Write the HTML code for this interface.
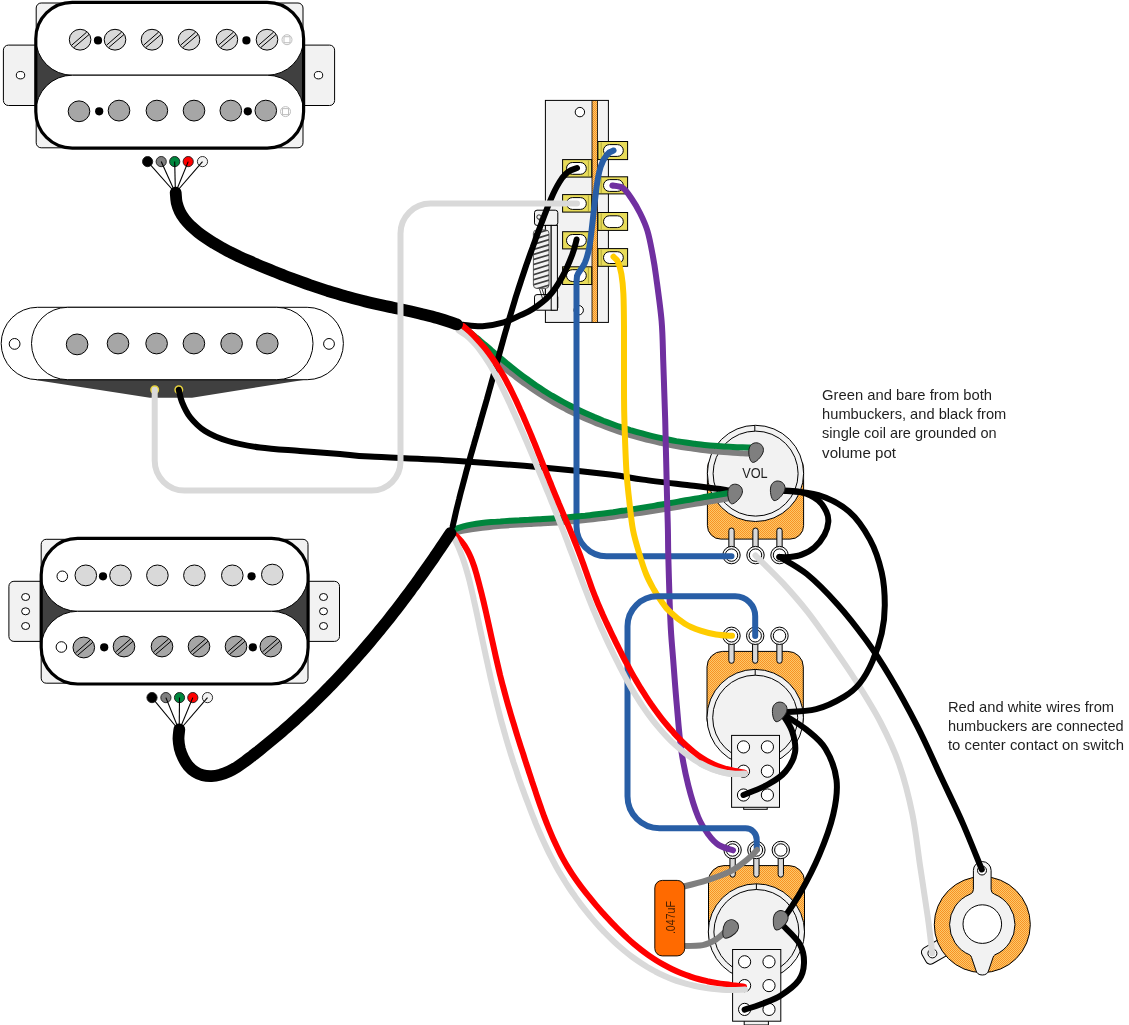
<!DOCTYPE html>
<html><head><meta charset="utf-8"><title>Wiring diagram</title>
<style>
html,body{margin:0;padding:0;background:#fff;}
body{width:1129px;height:1025px;overflow:hidden;font-family:"Liberation Sans",sans-serif;}
svg{display:block;will-change:transform;}
text{font-family:"Liberation Sans",sans-serif;}
</style></head><body>
<svg width="1129" height="1025" viewBox="0 0 1129 1025">
<defs>
<pattern id="dots" width="2" height="2" patternUnits="userSpaceOnUse">
<rect width="2" height="2" fill="#fcc868"/><rect x="0" y="0" width="1" height="1" fill="#f89226"/><rect x="1" y="1" width="1" height="1" fill="#f89226"/>
</pattern>
</defs>
<rect width="1129" height="1025" fill="#fff"/>
<g id="hb1">
<rect x="3.4" y="45.1" width="40.4" height="60.4" rx="5" fill="#f2f2f2" stroke="#000" stroke-width="1"/><rect x="295.6" y="45.1" width="39.0" height="60.4" rx="5" fill="#f2f2f2" stroke="#000" stroke-width="1"/><rect x="36.2" y="3" width="266.8" height="144.8" rx="5" fill="#f2f2f2" stroke="#000" stroke-width="1"/><rect x="35.8" y="2.3" width="267.8" height="145.79999999999998" rx="36.45" ry="36.45" fill="#404040"/><rect x="35.8" y="2.3" width="267.8" height="72.9" rx="36.45" ry="36.45" fill="#fff" stroke="#000" stroke-width="1"/><rect x="35.8" y="75.2" width="267.8" height="72.89999999999999" rx="36.449999999999996" ry="36.449999999999996" fill="#fff" stroke="#000" stroke-width="1"/><rect x="35.8" y="2.3" width="267.8" height="145.79999999999998" rx="36.45" ry="36.45" fill="none" stroke="#000" stroke-width="3.2"/>
<ellipse cx="20.5" cy="75.2" rx="4.2" ry="3.7" fill="#fff" stroke="#000"/>
<ellipse cx="318.5" cy="75.2" rx="4.2" ry="3.7" fill="#fff" stroke="#000"/>
<ellipse cx="80.1" cy="39.7" rx="10.8" ry="10.4" fill="#d9d9d9" stroke="#000" stroke-width="1"/><path d="M71.8 45.1L86.7 32.1M73.9 47.5L89.1 34.5" stroke="#000" stroke-width="1" fill="none"/>
<ellipse cx="115" cy="39.7" rx="10.8" ry="10.4" fill="#d9d9d9" stroke="#000" stroke-width="1"/><path d="M106.7 45.1L121.6 32.1M108.8 47.5L124.0 34.5" stroke="#000" stroke-width="1" fill="none"/>
<ellipse cx="152" cy="39.7" rx="10.8" ry="10.4" fill="#d9d9d9" stroke="#000" stroke-width="1"/><path d="M143.7 45.1L158.6 32.1M145.8 47.5L161.0 34.5" stroke="#000" stroke-width="1" fill="none"/>
<ellipse cx="189" cy="39.7" rx="10.8" ry="10.4" fill="#d9d9d9" stroke="#000" stroke-width="1"/><path d="M180.7 45.1L195.6 32.1M182.8 47.5L198.0 34.5" stroke="#000" stroke-width="1" fill="none"/>
<ellipse cx="226.9" cy="39.7" rx="10.8" ry="10.4" fill="#d9d9d9" stroke="#000" stroke-width="1"/><path d="M218.6 45.1L233.5 32.1M220.7 47.5L235.9 34.5" stroke="#000" stroke-width="1" fill="none"/>
<ellipse cx="267" cy="39.7" rx="10.8" ry="10.4" fill="#d9d9d9" stroke="#000" stroke-width="1"/><path d="M258.7 45.1L273.6 32.1M260.8 47.5L276.0 34.5" stroke="#000" stroke-width="1" fill="none"/>
<circle cx="98" cy="40.4" r="4.1" fill="#000"/>
<circle cx="246.4" cy="40.4" r="4.1" fill="#000"/>
<ellipse cx="79" cy="111.3" rx="10.8" ry="10.4" fill="#a6a6a6" stroke="#000" stroke-width="1"/>
<ellipse cx="119" cy="110.6" rx="10.8" ry="10.4" fill="#a6a6a6" stroke="#000" stroke-width="1"/>
<ellipse cx="156.9" cy="110.6" rx="10.8" ry="10.4" fill="#a6a6a6" stroke="#000" stroke-width="1"/>
<ellipse cx="194" cy="110.6" rx="10.8" ry="10.4" fill="#a6a6a6" stroke="#000" stroke-width="1"/>
<ellipse cx="230.8" cy="110.6" rx="10.8" ry="10.4" fill="#a6a6a6" stroke="#000" stroke-width="1"/>
<ellipse cx="265.8" cy="110.6" rx="10.8" ry="10.4" fill="#a6a6a6" stroke="#000" stroke-width="1"/>
<circle cx="99.2" cy="111.3" r="4.1" fill="#000"/>
<circle cx="247.8" cy="111.3" r="4.1" fill="#000"/>
<circle cx="287" cy="39.7" r="5" fill="#fff" stroke="#bfbfbf" stroke-width="1"/><rect x="284" y="36.7" width="6" height="6" fill="#fff" stroke="#bfbfbf" stroke-width="1"/>
<circle cx="285.5" cy="111.6" r="5" fill="#fff" stroke="#bfbfbf" stroke-width="1"/><rect x="282.5" y="108.6" width="6" height="6" fill="#fff" stroke="#bfbfbf" stroke-width="1"/>
</g>
<g id="hb2">
<rect x="8.9" y="581.3" width="40.300000000000004" height="60.10000000000002" rx="5" fill="#f2f2f2" stroke="#000" stroke-width="1"/><rect x="300.1" y="581.3" width="39.39999999999998" height="60.10000000000002" rx="5" fill="#f2f2f2" stroke="#000" stroke-width="1"/><rect x="41.2" y="539.3" width="266.8" height="143.9000000000001" rx="5" fill="#f2f2f2" stroke="#000" stroke-width="1"/><rect x="41.2" y="538.4" width="266.90000000000003" height="145.60000000000002" rx="36.44999999999999" ry="36.44999999999999" fill="#404040"/><rect x="41.2" y="538.4" width="266.90000000000003" height="72.89999999999998" rx="36.44999999999999" ry="36.44999999999999" fill="#fff" stroke="#000" stroke-width="1"/><rect x="41.2" y="611.3" width="266.90000000000003" height="72.70000000000005" rx="36.35000000000002" ry="36.35000000000002" fill="#fff" stroke="#000" stroke-width="1"/><rect x="41.2" y="538.4" width="266.90000000000003" height="145.60000000000002" rx="36.44999999999999" ry="36.44999999999999" fill="none" stroke="#000" stroke-width="3.2"/>
<ellipse cx="25.6" cy="597" rx="4" ry="3.5" fill="#fff" stroke="#000"/>
<ellipse cx="25.6" cy="611.3" rx="4" ry="3.5" fill="#fff" stroke="#000"/>
<ellipse cx="25.6" cy="626" rx="4" ry="3.5" fill="#fff" stroke="#000"/>
<ellipse cx="323.5" cy="597" rx="4" ry="3.5" fill="#fff" stroke="#000"/>
<ellipse cx="323.5" cy="611.3" rx="4" ry="3.5" fill="#fff" stroke="#000"/>
<ellipse cx="323.5" cy="626" rx="4" ry="3.5" fill="#fff" stroke="#000"/>
<circle cx="62.3" cy="576.3" r="5.3" fill="#fff" stroke="#000"/>
<circle cx="61.4" cy="647" r="5.3" fill="#fff" stroke="#000"/>
<ellipse cx="85.8" cy="575.4" rx="10.8" ry="10.4" fill="#d9d9d9" stroke="#000" stroke-width="1"/>
<ellipse cx="120.5" cy="575.4" rx="10.8" ry="10.4" fill="#d9d9d9" stroke="#000" stroke-width="1"/>
<ellipse cx="157.4" cy="575.4" rx="10.8" ry="10.4" fill="#d9d9d9" stroke="#000" stroke-width="1"/>
<ellipse cx="194.4" cy="575.4" rx="10.8" ry="10.4" fill="#d9d9d9" stroke="#000" stroke-width="1"/>
<ellipse cx="232.3" cy="575.4" rx="10.8" ry="10.4" fill="#d9d9d9" stroke="#000" stroke-width="1"/>
<ellipse cx="272.3" cy="574.6" rx="10.8" ry="10.4" fill="#d9d9d9" stroke="#000" stroke-width="1"/>
<circle cx="103" cy="576.3" r="4.1" fill="#000"/>
<circle cx="251.6" cy="576.3" r="4.1" fill="#000"/>
<ellipse cx="83.8" cy="647.5" rx="10.8" ry="10.4" fill="#a6a6a6" stroke="#000" stroke-width="1"/><path d="M75.5 652.9L90.4 639.9M77.6 655.3L92.8 642.3" stroke="#000" stroke-width="1" fill="none"/>
<ellipse cx="124" cy="646.5" rx="10.8" ry="10.4" fill="#a6a6a6" stroke="#000" stroke-width="1"/><path d="M115.7 651.9L130.6 638.9M117.8 654.3L133.0 641.3" stroke="#000" stroke-width="1" fill="none"/>
<ellipse cx="162" cy="646.5" rx="10.8" ry="10.4" fill="#a6a6a6" stroke="#000" stroke-width="1"/><path d="M153.7 651.9L168.6 638.9M155.8 654.3L171.0 641.3" stroke="#000" stroke-width="1" fill="none"/>
<ellipse cx="199" cy="646.5" rx="10.8" ry="10.4" fill="#a6a6a6" stroke="#000" stroke-width="1"/><path d="M190.7 651.9L205.6 638.9M192.8 654.3L208.0 641.3" stroke="#000" stroke-width="1" fill="none"/>
<ellipse cx="236" cy="646.5" rx="10.8" ry="10.4" fill="#a6a6a6" stroke="#000" stroke-width="1"/><path d="M227.7 651.9L242.6 638.9M229.8 654.3L245.0 641.3" stroke="#000" stroke-width="1" fill="none"/>
<ellipse cx="270.8" cy="646.5" rx="10.8" ry="10.4" fill="#a6a6a6" stroke="#000" stroke-width="1"/><path d="M262.5 651.9L277.4 638.9M264.6 654.3L279.8 641.3" stroke="#000" stroke-width="1" fill="none"/>
<circle cx="104.2" cy="647.3" r="4.1" fill="#000"/>
<circle cx="252.8" cy="647.3" r="4.1" fill="#000"/>
</g>
<g id="sc">
<path d="M33.7 379.7L305 379.7L192 397.7L149.8 397.7Z" fill="#404040"/>
<rect x="1.2" y="307.3" width="342.2" height="72.39999999999998" rx="36.19999999999999" ry="36.19999999999999" fill="#fff" stroke="#000" stroke-width="1"/>
<rect x="31.5" y="307.3" width="281.5" height="72.39999999999998" rx="36.19999999999999" ry="36.19999999999999" fill="#fff" stroke="#000" stroke-width="1"/>
<circle cx="14.6" cy="343.9" r="5.4" fill="#fff" stroke="#000"/>
<circle cx="329" cy="343.9" r="5.4" fill="#fff" stroke="#000"/>
<ellipse cx="77.1" cy="344.4" rx="10.8" ry="10.4" fill="#a6a6a6" stroke="#000" stroke-width="1"/>
<ellipse cx="118" cy="343.5" rx="10.8" ry="10.4" fill="#a6a6a6" stroke="#000" stroke-width="1"/>
<ellipse cx="156.6" cy="343.5" rx="10.8" ry="10.4" fill="#a6a6a6" stroke="#000" stroke-width="1"/>
<ellipse cx="193.9" cy="343.5" rx="10.8" ry="10.4" fill="#a6a6a6" stroke="#000" stroke-width="1"/>
<ellipse cx="231.6" cy="343.5" rx="10.8" ry="10.4" fill="#a6a6a6" stroke="#000" stroke-width="1"/>
<ellipse cx="267.3" cy="343.5" rx="10.8" ry="10.4" fill="#a6a6a6" stroke="#000" stroke-width="1"/>
<circle cx="154.7" cy="389.7" r="3.6" fill="#fff" stroke="#e6d23c" stroke-width="1.8"/>
<circle cx="178.8" cy="389.7" r="3.6" fill="#fff" stroke="#e6d23c" stroke-width="1.8"/>
</g>
<g id="sw">
<rect x="545.4" y="100.4" width="63" height="222" fill="#f2f2f2" stroke="#000" stroke-width="1"/>
<rect x="592" y="100.4" width="5.6" height="222" fill="url(#dots)" stroke="#000" stroke-width="0.8"/>
<circle cx="579.9" cy="112.1" r="4.7" fill="#fff" stroke="#000"/>
<circle cx="578.7" cy="310.2" r="4.7" fill="#fff" stroke="#000"/>
<rect x="534.5" y="210.2" width="23.3" height="15.2" rx="2.5" fill="#f2f2f2" stroke="#000"/>
<rect x="534.5" y="294.6" width="23.3" height="15.6" rx="2.5" fill="#f2f2f2" stroke="#000"/>
<rect x="545.4" y="225.4" width="5.8" height="69.2" fill="#f2f2f2" stroke="#000"/>
<rect x="551.2" y="225.4" width="6.2" height="84.8" fill="#f2f2f2" stroke="#000"/>
<circle cx="539" cy="217" r="2.2" fill="none" stroke="#000" stroke-width="0.8"/>
<path d="M539 219L542 230M539.5 289L544 303M542 289L546.5 302" stroke="#000" stroke-width="0.8" fill="none"/>
<clipPath id="spc"><rect x="533.4" y="229.9" width="15.6" height="58.5" rx="3.5"/></clipPath>
<rect x="533.4" y="229.9" width="15.6" height="58.5" rx="3.5" fill="#f2f2f2" stroke="#595959" stroke-width="1"/>
<path d="M532 234.7L550.5 229.1M532 239.8L550.5 234.2M532 244.8L550.5 239.2M532 249.9L550.5 244.3M532 254.9L550.5 249.3M532 260.0L550.5 254.4M532 265.0L550.5 259.4M532 270.1L550.5 264.5M532 275.1L550.5 269.5M532 280.2L550.5 274.6M532 285.2L550.5 279.6M532 290.3L550.5 284.7M532 295.3L550.5 289.7M532 300.4L550.5 294.8" stroke="#404040" stroke-width="1.7" fill="none" clip-path="url(#spc)"/>
<rect x="597.9" y="141.5" width="29.700000000000045" height="18.099999999999994" fill="#e8dc5a" stroke="#000" stroke-width="1"/><line x1="601.1999999999999" y1="142.5" x2="601.1999999999999" y2="158.6" stroke="#9a8f2a" stroke-width="0.7"/><rect x="603.5" y="144.6" width="19.8" height="11.8" rx="5.9" fill="#fff" stroke="#000" stroke-width="1"/>
<rect x="597.9" y="176.8" width="29.700000000000045" height="17.099999999999994" fill="#e8dc5a" stroke="#000" stroke-width="1"/><line x1="601.1999999999999" y1="177.8" x2="601.1999999999999" y2="192.9" stroke="#9a8f2a" stroke-width="0.7"/><rect x="603.5" y="179.6" width="19.8" height="11.8" rx="5.9" fill="#fff" stroke="#000" stroke-width="1"/>
<rect x="597.9" y="212.5" width="29.700000000000045" height="17.900000000000006" fill="#e8dc5a" stroke="#000" stroke-width="1"/><line x1="601.1999999999999" y1="213.5" x2="601.1999999999999" y2="229.4" stroke="#9a8f2a" stroke-width="0.7"/><rect x="603.5" y="215.79999999999998" width="19.8" height="11.8" rx="5.9" fill="#fff" stroke="#000" stroke-width="1"/>
<rect x="597.9" y="248.6" width="29.700000000000045" height="17.700000000000017" fill="#e8dc5a" stroke="#000" stroke-width="1"/><line x1="601.1999999999999" y1="249.6" x2="601.1999999999999" y2="265.3" stroke="#9a8f2a" stroke-width="0.7"/><rect x="603.5" y="251.70000000000002" width="19.8" height="11.8" rx="5.9" fill="#fff" stroke="#000" stroke-width="1"/>
<rect x="562.6" y="159.6" width="29.100000000000023" height="17.5" fill="#e8dc5a" stroke="#000" stroke-width="1"/><line x1="588.4000000000001" y1="160.6" x2="588.4000000000001" y2="176.1" stroke="#9a8f2a" stroke-width="0.7"/><rect x="566.5" y="162.5" width="19.8" height="11.8" rx="5.9" fill="#fff" stroke="#000" stroke-width="1"/>
<rect x="562.6" y="194.6" width="29.100000000000023" height="17.5" fill="#e8dc5a" stroke="#000" stroke-width="1"/><line x1="588.4000000000001" y1="195.6" x2="588.4000000000001" y2="211.1" stroke="#9a8f2a" stroke-width="0.7"/><rect x="566.5" y="197.6" width="19.8" height="11.8" rx="5.9" fill="#fff" stroke="#000" stroke-width="1"/>
<rect x="562.6" y="231.7" width="29.100000000000023" height="17.200000000000017" fill="#e8dc5a" stroke="#000" stroke-width="1"/><line x1="588.4000000000001" y1="232.7" x2="588.4000000000001" y2="247.9" stroke="#9a8f2a" stroke-width="0.7"/><rect x="566.5" y="234.5" width="19.8" height="11.8" rx="5.9" fill="#fff" stroke="#000" stroke-width="1"/>
<rect x="562.6" y="266.8" width="29.100000000000023" height="17.69999999999999" fill="#e8dc5a" stroke="#000" stroke-width="1"/><line x1="588.4000000000001" y1="267.8" x2="588.4000000000001" y2="283.5" stroke="#9a8f2a" stroke-width="0.7"/><rect x="566.5" y="269.70000000000005" width="19.8" height="11.8" rx="5.9" fill="#fff" stroke="#000" stroke-width="1"/>
</g>
<g id="vol">
<rect x="707.4" y="455" width="96.2" height="84.1" rx="13.5" fill="url(#dots)" stroke="#000" stroke-width="1"/>
<path d="M728.85 548.1L728.85 530.65A2.65 2.65 0 0 1 734.15 530.65L734.15 548.1" fill="#d9d9d9" stroke="#000" stroke-width="1"/><circle cx="731.5" cy="555.1" r="8.7" fill="#f2f2f2" stroke="#000" stroke-width="1"/><circle cx="731.5" cy="555.1" r="6.2" fill="#fff" stroke="#000" stroke-width="1"/><path d="M752.85 548.1L752.85 530.65A2.65 2.65 0 0 1 758.15 530.65L758.15 548.1" fill="#d9d9d9" stroke="#000" stroke-width="1"/><circle cx="755.5" cy="555.1" r="8.7" fill="#f2f2f2" stroke="#000" stroke-width="1"/><circle cx="755.5" cy="555.1" r="6.2" fill="#fff" stroke="#000" stroke-width="1"/><path d="M776.85 548.1L776.85 530.65A2.65 2.65 0 0 1 782.15 530.65L782.15 548.1" fill="#d9d9d9" stroke="#000" stroke-width="1"/><circle cx="779.5" cy="555.1" r="8.7" fill="#f2f2f2" stroke="#000" stroke-width="1"/><circle cx="779.5" cy="555.1" r="6.2" fill="#fff" stroke="#000" stroke-width="1"/>
<circle cx="755.5" cy="473.4" r="48.1" fill="#f2f2f2" stroke="#000"/>
<circle cx="755.6" cy="473.6" r="42.5" fill="#f2f2f2" stroke="#000"/>
<line x1="754.8" y1="425.3" x2="754.8" y2="431.1" stroke="#000"/>
</g>
<g id="tone1">
<rect x="707" y="651.4" width="96.3" height="84" rx="15.5" fill="url(#dots)" stroke="#000" stroke-width="1"/>
<path d="M728.85 642.8L728.85 660.65A2.65 2.65 0 0 0 734.15 660.65L734.15 642.8" fill="#d9d9d9" stroke="#000" stroke-width="1"/><circle cx="731.5" cy="635.8" r="8.7" fill="#f2f2f2" stroke="#000" stroke-width="1"/><circle cx="731.5" cy="635.8" r="6.2" fill="#fff" stroke="#000" stroke-width="1"/><path d="M752.5500000000001 642.8L752.5500000000001 660.65A2.65 2.65 0 0 0 757.85 660.65L757.85 642.8" fill="#d9d9d9" stroke="#000" stroke-width="1"/><circle cx="755.2" cy="635.8" r="8.7" fill="#f2f2f2" stroke="#000" stroke-width="1"/><circle cx="755.2" cy="635.8" r="6.2" fill="#fff" stroke="#000" stroke-width="1"/><path d="M776.85 642.8L776.85 660.65A2.65 2.65 0 0 0 782.15 660.65L782.15 642.8" fill="#d9d9d9" stroke="#000" stroke-width="1"/><circle cx="779.5" cy="635.8" r="8.7" fill="#f2f2f2" stroke="#000" stroke-width="1"/><circle cx="779.5" cy="635.8" r="6.2" fill="#fff" stroke="#000" stroke-width="1"/>
<circle cx="755.2" cy="717.6" r="48.2" fill="#f2f2f2" stroke="#000"/>
<circle cx="755.2" cy="717.7" r="42.5" fill="#f2f2f2" stroke="#000"/>
<line x1="755.2" y1="669.4" x2="755.2" y2="675.2" stroke="#000"/>
<rect x="743.7" y="804.6" width="23.5" height="4.7" fill="#f2f2f2" stroke="#000"/>
<rect x="731.6" y="735.4" width="47.9" height="71.9" fill="#f2f2f2" stroke="#000"/>
<circle cx="743.5" cy="746.9" r="6.1" fill="#fff" stroke="#000"/>
<circle cx="743.5" cy="771.2" r="6.1" fill="#fff" stroke="#000"/>
<circle cx="743.5" cy="795" r="6.1" fill="#fff" stroke="#000"/>
<circle cx="767.4" cy="746.9" r="6.1" fill="#fff" stroke="#000"/>
<circle cx="767.4" cy="771.2" r="6.1" fill="#fff" stroke="#000"/>
<circle cx="767.4" cy="795" r="6.1" fill="#fff" stroke="#000"/>
</g>
<g id="tone2">
<rect x="708.5" y="865.6" width="96" height="84" rx="15.5" fill="url(#dots)" stroke="#000" stroke-width="1"/>
<path d="M729.95 857L729.95 874.5500000000001A2.65 2.65 0 0 0 735.25 874.5500000000001L735.25 857" fill="#d9d9d9" stroke="#000" stroke-width="1"/><circle cx="732.6" cy="850" r="8.7" fill="#f2f2f2" stroke="#000" stroke-width="1"/><circle cx="732.6" cy="850" r="6.2" fill="#fff" stroke="#000" stroke-width="1"/><path d="M753.75 857L753.75 874.5500000000001A2.65 2.65 0 0 0 759.05 874.5500000000001L759.05 857" fill="#d9d9d9" stroke="#000" stroke-width="1"/><circle cx="756.4" cy="850" r="8.7" fill="#f2f2f2" stroke="#000" stroke-width="1"/><circle cx="756.4" cy="850" r="6.2" fill="#fff" stroke="#000" stroke-width="1"/><path d="M778.15 857L778.15 874.5500000000001A2.65 2.65 0 0 0 783.4499999999999 874.5500000000001L783.4499999999999 857" fill="#d9d9d9" stroke="#000" stroke-width="1"/><circle cx="780.8" cy="850" r="8.7" fill="#f2f2f2" stroke="#000" stroke-width="1"/><circle cx="780.8" cy="850" r="6.2" fill="#fff" stroke="#000" stroke-width="1"/>
<circle cx="756.4" cy="931.9" r="48.1" fill="#f2f2f2" stroke="#000"/>
<circle cx="756.4" cy="932" r="42.5" fill="#f2f2f2" stroke="#000"/>
<line x1="756.4" y1="883.8" x2="756.4" y2="889.5" stroke="#000"/>
<rect x="744.2" y="1019" width="24.2" height="6" fill="#f2f2f2" stroke="#000"/>
<rect x="732.6" y="949.5" width="48.2" height="71.7" fill="#f2f2f2" stroke="#000"/>
<circle cx="744.6" cy="961.8" r="6.1" fill="#fff" stroke="#000"/>
<circle cx="744.6" cy="985.6" r="6.1" fill="#fff" stroke="#000"/>
<circle cx="744.6" cy="1009.4" r="6.1" fill="#fff" stroke="#000"/>
<circle cx="769" cy="961.8" r="6.1" fill="#fff" stroke="#000"/>
<circle cx="769" cy="985.6" r="6.1" fill="#fff" stroke="#000"/>
<circle cx="769" cy="1009.4" r="6.1" fill="#fff" stroke="#000"/>
</g>
<g id="jack">
<rect x="-9.6" y="-9" width="34" height="18" rx="5" transform="translate(932.4 953.4) rotate(-29.8)" fill="#f2f2f2" stroke="#000"/>
<circle cx="932.4" cy="953.4" r="4.5" fill="#fff" stroke="#000"/>
<circle cx="982.3" cy="924.6" r="48" fill="url(#dots)" stroke="#000"/>
<path d="M973.4 870.4A8.85 8.85 0 0 1 991.1 870.4L991.1 889.5Q991.1 893 994.5 894.2A32.8 32.8 0 0 1 994.8 954.9Q993.4 955.8 993 957.6L988.8 970Q987.6 975 982.3 975Q977 975 975.8 970L971.6 957.6Q971.2 955.8 969.8 954.9A32.8 32.8 0 0 1 970.1 894.2Q973.4 893 973.4 889.5Z" fill="#f2f2f2" stroke="#000"/>
<circle cx="982.3" cy="924.1" r="19.3" fill="#fff" stroke="#000"/>
<circle cx="982" cy="870.5" r="4.5" fill="#fff" stroke="#000"/>
</g>
<g opacity="0.999">
<text x="822.1" y="399.9" font-size="14.4" fill="#1f1f1f" textLength="170" lengthAdjust="spacingAndGlyphs">Green and bare from both</text>
<text x="822.1" y="419.1" font-size="14.4" fill="#1f1f1f" textLength="184.2" lengthAdjust="spacingAndGlyphs">humbuckers, and black from</text>
<text x="822.1" y="438.4" font-size="14.4" fill="#1f1f1f" textLength="174.5" lengthAdjust="spacingAndGlyphs">single coil are grounded on</text>
<text x="822.1" y="457.6" font-size="14.4" fill="#1f1f1f" textLength="73.9" lengthAdjust="spacingAndGlyphs">volume pot</text>
<text x="947.9" y="712.1" font-size="14.4" fill="#1f1f1f" textLength="166.2" lengthAdjust="spacingAndGlyphs">Red and white wires from</text>
<text x="947.9" y="731.2" font-size="14.4" fill="#1f1f1f" textLength="175.7" lengthAdjust="spacingAndGlyphs">humbuckers are connected</text>
<text x="947.9" y="750.3" font-size="14.4" fill="#1f1f1f" textLength="176.2" lengthAdjust="spacingAndGlyphs">to center contact on switch</text>
<text x="742.2" y="478.4" font-size="13.9" fill="#1f1f1f" textLength="25.5" lengthAdjust="spacingAndGlyphs">VOL</text>
</g>
<g id="wires">
<path d="M461.0 327.0C462.3 327.9 466.3 330.4 468.8 332.3C471.3 334.1 473.6 336.2 475.9 338.4C478.1 340.5 480.2 342.8 482.3 345.1C484.4 347.4 486.4 349.8 488.4 352.2C490.4 354.5 492.4 356.9 494.6 359.2C496.7 361.4 499.0 363.5 501.3 365.6C503.7 367.6 506.2 369.5 508.6 371.4C511.1 373.4 513.6 375.2 516.0 377.1C518.5 379.0 521.0 380.9 523.5 382.7C526.0 384.5 528.6 386.3 531.1 388.1C533.7 389.9 536.2 391.6 538.8 393.3C541.4 395.0 544.1 396.7 546.7 398.3C549.4 399.9 552.1 401.5 554.8 403.1C557.5 404.6 560.2 406.1 563.0 407.6C565.8 409.0 568.5 410.5 571.3 411.9C574.1 413.3 576.9 414.6 579.8 415.9C582.6 417.2 585.4 418.5 588.3 419.8C591.2 421.0 594.0 422.2 596.9 423.4C599.8 424.5 602.7 425.6 605.6 426.7C608.5 427.8 611.5 428.9 614.4 429.9C617.3 430.9 620.3 431.9 623.3 432.8C626.2 433.8 629.2 434.7 632.2 435.6C635.2 436.4 638.2 437.3 641.2 438.1C644.2 438.9 647.2 439.7 650.2 440.4C653.2 441.2 656.3 441.9 659.3 442.5C662.4 443.2 665.4 443.9 668.5 444.5C671.5 445.1 674.6 445.7 677.6 446.2C680.7 446.8 683.8 447.3 686.9 447.8C689.9 448.2 693.0 448.7 696.1 449.1C699.2 449.5 702.3 449.9 705.4 450.3C708.5 450.7 711.6 451.0 714.7 451.3C717.8 451.6 720.9 451.9 724.0 452.1C727.1 452.4 730.2 452.6 733.3 452.8C736.4 453.0 739.6 453.1 742.7 453.3C745.8 453.4 750.4 453.5 752.0 453.6" fill="none" stroke="#7f7f7f" stroke-width="6" stroke-linecap="round" stroke-linejoin="round"/>
<path d="M462.0 326.0C463.2 327.0 467.0 329.9 469.4 331.9C471.9 333.8 474.3 335.9 476.8 337.9C479.2 339.9 481.6 342.0 484.0 344.0C486.5 346.1 488.9 348.1 491.3 350.2C493.7 352.2 496.1 354.3 498.5 356.4C500.9 358.4 503.3 360.5 505.8 362.5C508.2 364.5 510.7 366.5 513.2 368.5C515.6 370.5 518.1 372.4 520.6 374.3C523.2 376.3 525.7 378.1 528.3 380.0C530.8 381.9 533.4 383.7 536.0 385.5C538.6 387.2 541.3 389.0 543.9 390.7C546.6 392.4 549.3 394.0 552.0 395.7C554.7 397.3 557.5 398.9 560.3 400.4C563.0 401.9 565.8 403.4 568.6 404.9C571.4 406.4 574.3 407.8 577.1 409.2C580.0 410.6 582.8 411.9 585.7 413.2C588.6 414.5 591.5 415.8 594.4 417.1C597.3 418.3 600.3 419.5 603.2 420.7C606.2 421.8 609.1 422.9 612.1 424.0C615.1 425.1 618.1 426.2 621.1 427.2C624.1 428.2 627.1 429.1 630.1 430.1C633.2 431.0 636.2 431.9 639.2 432.7C642.3 433.6 645.4 434.4 648.4 435.2C651.5 436.0 654.6 436.7 657.7 437.4C660.8 438.1 663.9 438.7 667.0 439.3C670.1 439.9 673.2 440.5 676.3 441.1C679.4 441.6 682.6 442.1 685.7 442.5C688.8 443.0 692.0 443.4 695.1 443.8C698.3 444.2 701.4 444.6 704.6 444.9C707.7 445.2 710.9 445.5 714.0 445.7C717.2 446.0 720.3 446.2 723.5 446.4C726.7 446.6 729.8 446.8 733.0 446.9C736.2 447.1 739.3 447.2 742.5 447.3C745.7 447.4 750.4 447.5 752.0 447.5" fill="none" stroke="#00863d" stroke-width="6" stroke-linecap="round" stroke-linejoin="round"/>
<path d="M454.4 532.5C455.9 532.2 460.5 531.2 463.6 530.6C466.7 530.0 469.8 529.5 472.9 529.1C476.0 528.6 479.1 528.2 482.2 527.8C485.3 527.4 488.4 527.0 491.5 526.7C494.6 526.4 497.7 526.1 500.8 525.8C504.0 525.6 507.1 525.4 510.2 525.1C513.3 524.9 516.5 524.7 519.6 524.5C522.7 524.3 525.9 524.2 529.0 524.0C532.1 523.8 535.2 523.7 538.4 523.5C541.5 523.3 544.6 523.2 547.8 523.0C550.9 522.8 554.0 522.6 557.2 522.4C560.3 522.2 563.4 522.0 566.6 521.7C569.7 521.5 572.8 521.2 575.9 521.0C579.0 520.7 582.2 520.4 585.3 520.1C588.4 519.7 591.5 519.4 594.6 519.0C597.7 518.7 600.8 518.3 604.0 517.9C607.1 517.5 610.2 517.1 613.3 516.7C616.4 516.3 619.5 515.9 622.6 515.4C625.7 515.0 628.8 514.5 631.9 514.1C635.0 513.6 638.1 513.2 641.2 512.7C644.3 512.2 647.4 511.7 650.5 511.2C653.6 510.7 656.7 510.2 659.8 509.7C662.9 509.2 666.0 508.7 669.0 508.2C672.1 507.7 675.2 507.2 678.3 506.7C681.4 506.1 684.5 505.6 687.6 505.1C690.7 504.6 693.8 504.1 696.9 503.6C700.0 503.0 703.1 502.5 706.2 502.0C709.2 501.5 712.3 501.0 715.4 500.5C718.5 500.0 721.6 499.5 724.7 499.0C727.8 498.5 732.5 497.8 734.0 497.6" fill="none" stroke="#7f7f7f" stroke-width="6" stroke-linecap="round" stroke-linejoin="round"/>
<path d="M178.8 389.7C179.3 391.8 180.1 397.4 182.0 402.0C183.9 406.6 186.2 412.2 190.0 417.0C193.8 421.8 198.7 427.0 205.0 431.0C211.3 435.0 218.8 438.2 228.0 441.0C237.2 443.8 248.0 445.8 260.0 447.5C272.0 449.2 286.7 449.9 300.0 451.0C313.3 452.1 328.3 453.1 340.0 454.0C351.7 454.9 350.8 455.5 370.0 456.6C389.2 457.7 426.7 459.0 455.0 460.8C483.3 462.6 514.2 464.9 540.0 467.2C565.8 469.5 592.9 472.5 610.0 474.6C627.1 476.7 629.0 477.7 642.9 479.6C656.8 481.5 680.8 484.2 693.6 485.8C706.5 487.4 713.1 488.0 720.0 489.0C726.9 490.0 732.5 491.5 735.0 492.0" fill="none" stroke="#000" stroke-width="6" stroke-linecap="round" stroke-linejoin="round"/>
<path d="M613.6 150.5C608 152 603.5 158 600.6 166.9C598 175 596.9 183 595.6 195C594.3 207 592.5 222 591.1 234.5C590 245 588.5 254.3 584.8 263C582 269 578.5 271.5 577 276L576.5 282L576.5 526A30 30 0 0 0 606.5 556.2L731.5 556.2" fill="none" stroke="#285ea6" stroke-width="6" stroke-linecap="round" stroke-linejoin="round"/>
<path d="M454.4 529.3C455.9 528.8 460.3 527.2 463.4 526.4C466.4 525.6 469.4 525.0 472.5 524.4C475.6 523.9 478.7 523.5 481.8 523.1C484.9 522.7 488.0 522.4 491.2 522.1C494.3 521.8 497.4 521.6 500.5 521.4C503.7 521.1 506.8 520.9 509.9 520.7C513.1 520.5 516.2 520.3 519.3 520.2C522.5 520.0 525.6 519.8 528.8 519.7C531.9 519.5 535.0 519.4 538.2 519.2C541.3 519.0 544.5 518.9 547.6 518.7C550.7 518.5 553.9 518.3 557.0 518.1C560.1 517.9 563.3 517.7 566.4 517.4C569.5 517.2 572.7 516.9 575.8 516.6C578.9 516.3 582.0 516.0 585.2 515.7C588.3 515.3 591.4 515.0 594.5 514.6C597.6 514.2 600.7 513.8 603.8 513.4C607.0 513.0 610.1 512.6 613.2 512.2C616.3 511.7 619.4 511.3 622.5 510.8C625.6 510.3 628.7 509.9 631.8 509.4C634.9 508.9 638.0 508.4 641.1 507.9C644.2 507.4 647.3 506.9 650.4 506.4C653.5 505.9 656.6 505.3 659.7 504.8C662.8 504.3 665.9 503.8 669.0 503.2C672.1 502.7 675.2 502.2 678.3 501.6C681.4 501.1 684.5 500.5 687.6 500.0C690.7 499.5 693.7 498.9 696.8 498.4C699.9 497.9 703.0 497.3 706.1 496.8C709.2 496.3 712.3 495.8 715.4 495.3C718.5 494.8 721.6 494.3 724.7 493.8C727.8 493.3 732.5 492.5 734.0 492.3" fill="none" stroke="#00863d" stroke-width="6" stroke-linecap="round" stroke-linejoin="round"/>
<path d="M612.4 185.5C614.1 185.9 619.7 185.8 622.9 188.0C626.1 190.2 628.6 194.3 631.5 198.5C634.4 202.7 637.3 207.6 640.0 213.0C642.7 218.4 645.5 224.3 647.5 231.0C649.5 237.7 650.9 245.5 652.3 253.0C653.7 260.5 654.5 264.5 656.0 275.8C657.5 287.1 660.4 307.0 661.6 321.0C662.8 335.0 662.8 348.5 663.2 360.0C663.6 371.5 663.9 380.0 664.2 390.0C664.5 400.0 664.7 402.3 665.2 420.0C665.7 437.7 666.5 477.7 667.0 496.0C667.5 514.3 667.7 520.0 667.9 530.0C668.1 540.0 668.0 544.8 668.3 556.0C668.6 567.2 669.1 585.2 669.5 597.5C669.9 609.8 670.3 619.6 670.9 630.0C671.5 640.4 672.2 647.3 673.2 660.0C674.2 672.7 675.5 691.3 676.9 706.3C678.2 721.3 679.4 737.0 681.3 750.2C683.2 763.4 685.5 774.3 688.3 785.4C691.1 796.5 694.9 808.8 698.2 817.0C701.6 825.2 705.0 829.8 708.4 834.5C711.8 839.2 714.8 842.5 718.9 845.1C723.0 847.7 730.6 849.4 733.0 850.3" fill="none" stroke="#7030a0" stroke-width="6" stroke-linecap="round" stroke-linejoin="round"/>
<path d="M613.5 256.8C614.2 257.6 616.5 258.6 617.8 261.5C619.1 264.4 620.5 268.6 621.4 274.0C622.3 279.4 623.0 285.0 623.4 293.8C623.8 302.6 623.9 310.7 624.0 326.7C624.1 342.7 623.9 374.4 624.0 390.0C624.1 405.6 624.0 406.6 624.4 420.0C624.8 433.4 625.6 457.4 626.4 470.7C627.2 484.0 628.1 490.1 629.2 500.0C630.3 509.9 631.2 520.7 633.0 530.0C634.8 539.3 637.8 548.5 640.0 556.0C642.2 563.5 644.2 569.5 646.5 575.0C648.8 580.5 651.4 585.1 653.7 589.3C656.0 593.5 657.9 596.4 660.5 600.0C663.1 603.6 665.2 607.2 669.3 611.2C673.4 615.2 679.7 620.5 684.9 623.7C690.1 627.0 695.3 628.9 700.5 630.7C705.7 632.5 710.8 633.6 716.0 634.5C721.2 635.4 729.3 635.6 732.0 635.8" fill="none" stroke="#ffcc00" stroke-width="6" stroke-linecap="round" stroke-linejoin="round"/>
<path d="M755.2 636L755.2 616.3A20 20 0 0 0 735.2 596.3L657.5 596.3A30 30 0 0 0 627.5 626.3L627.5 796.3A32 32 0 0 0 659.5 828.3L745.5 828.3A11.2 11.2 0 0 1 756.7 839.5L756.7 849" fill="none" stroke="#285ea6" stroke-width="6" stroke-linecap="round" stroke-linejoin="round"/>
<path d="M455.4 535.2C456.5 536.3 459.9 539.5 461.8 541.9C463.8 544.3 465.4 546.8 466.9 549.4C468.4 552.0 469.7 554.8 470.9 557.6C472.1 560.4 473.1 563.3 474.1 566.3C475.1 569.2 475.9 572.2 476.8 575.2C477.6 578.2 478.4 581.2 479.2 584.2C480.0 587.2 480.7 590.2 481.5 593.2C482.2 596.3 483.0 599.3 483.7 602.3C484.4 605.3 485.1 608.3 485.8 611.4C486.5 614.4 487.1 617.4 487.8 620.4C488.5 623.5 489.1 626.5 489.8 629.5C490.5 632.5 491.1 635.6 491.8 638.6C492.5 641.6 493.1 644.6 493.8 647.6C494.5 650.7 495.1 653.7 495.8 656.7C496.5 659.7 497.2 662.7 497.9 665.7C498.6 668.7 499.3 671.7 500.0 674.7C500.8 677.7 501.5 680.7 502.3 683.7C503.1 686.7 503.9 689.6 504.7 692.6C505.5 695.6 506.3 698.6 507.1 701.5C507.9 704.5 508.8 707.5 509.7 710.4C510.5 713.4 511.4 716.3 512.3 719.3C513.2 722.2 514.1 725.2 515.0 728.1C515.9 731.1 516.8 734.0 517.7 737.0C518.6 739.9 519.6 742.9 520.5 745.8C521.5 748.8 522.4 751.7 523.4 754.6C524.3 757.6 525.3 760.5 526.2 763.5C527.2 766.4 528.2 769.4 529.1 772.3C530.1 775.3 531.1 778.2 532.0 781.2C533.0 784.1 534.0 787.1 535.0 790.0C535.9 793.0 536.9 795.9 537.9 798.8C538.9 801.8 539.9 804.7 541.0 807.6C542.0 810.6 543.1 813.5 544.1 816.4C545.2 819.3 546.3 822.2 547.5 825.1C548.6 827.9 549.8 830.8 551.0 833.6C552.2 836.5 553.4 839.3 554.7 842.1C556.0 844.9 557.3 847.7 558.7 850.4C560.0 853.2 561.4 855.9 562.9 858.6C564.4 861.3 565.9 864.0 567.5 866.6C569.1 869.2 570.7 871.8 572.4 874.4C574.1 876.9 575.9 879.5 577.7 882.0C579.5 884.5 581.3 887.0 583.2 889.4C585.1 891.9 587.0 894.3 589.0 896.7C590.9 899.1 592.9 901.5 594.9 903.9C596.9 906.2 598.9 908.6 601.0 910.9C603.1 913.2 605.1 915.6 607.2 917.8C609.3 920.1 611.4 922.4 613.6 924.6C615.7 926.9 617.9 929.1 620.1 931.2C622.3 933.4 624.5 935.6 626.8 937.6C629.1 939.7 631.4 941.8 633.7 943.8C636.1 945.8 638.5 947.7 640.9 949.6C643.3 951.5 645.8 953.3 648.3 955.1C650.9 956.9 653.4 958.6 656.0 960.2C658.7 961.9 661.3 963.4 664.0 964.9C666.7 966.4 669.5 967.9 672.3 969.2C675.1 970.5 677.9 971.8 680.8 973.0C683.6 974.1 686.5 975.2 689.4 976.2C692.4 977.2 695.3 978.2 698.3 979.0C701.3 979.8 704.3 980.5 707.3 981.2C710.3 981.8 713.4 982.4 716.4 982.9C719.5 983.5 722.5 983.9 725.6 984.3C728.7 984.8 731.7 985.1 734.8 985.5C737.9 985.9 742.5 986.4 744.0 986.6" fill="none" stroke="#ff0000" stroke-width="6" stroke-linecap="round" stroke-linejoin="round"/>
<path d="M454.4 538.6C455.1 540.0 457.1 544.2 458.4 547.0C459.6 549.8 460.7 552.7 461.8 555.6C462.9 558.5 463.9 561.4 464.8 564.3C465.7 567.2 466.6 570.2 467.4 573.1C468.3 576.1 469.0 579.1 469.8 582.1C470.5 585.1 471.2 588.1 471.9 591.1C472.6 594.1 473.3 597.1 473.9 600.1C474.6 603.2 475.2 606.2 475.9 609.2C476.5 612.2 477.2 615.2 477.8 618.2C478.5 621.3 479.1 624.3 479.7 627.3C480.4 630.3 481.0 633.4 481.7 636.4C482.3 639.4 482.9 642.4 483.6 645.4C484.2 648.5 484.9 651.5 485.5 654.5C486.2 657.5 486.8 660.5 487.5 663.5C488.1 666.6 488.8 669.6 489.5 672.6C490.1 675.6 490.8 678.6 491.5 681.6C492.2 684.6 492.9 687.6 493.6 690.6C494.3 693.6 495.0 696.6 495.8 699.6C496.5 702.6 497.2 705.6 498.0 708.6C498.8 711.6 499.5 714.6 500.3 717.6C501.1 720.6 501.9 723.6 502.8 726.5C503.6 729.5 504.4 732.5 505.3 735.4C506.1 738.4 507.0 741.4 507.9 744.3C508.8 747.3 509.7 750.3 510.6 753.2C511.6 756.2 512.5 759.1 513.4 762.1C514.4 765.0 515.4 767.9 516.4 770.9C517.3 773.8 518.3 776.7 519.3 779.7C520.4 782.6 521.4 785.5 522.4 788.4C523.5 791.3 524.5 794.2 525.6 797.1C526.7 800.0 527.8 802.9 528.9 805.8C530.0 808.7 531.1 811.6 532.2 814.5C533.3 817.3 534.5 820.2 535.6 823.1C536.8 825.9 538.0 828.8 539.2 831.6C540.4 834.4 541.6 837.3 542.9 840.1C544.2 842.9 545.5 845.7 546.8 848.4C548.1 851.2 549.5 854.0 550.9 856.7C552.3 859.4 553.7 862.1 555.2 864.8C556.6 867.5 558.2 870.2 559.7 872.8C561.3 875.5 562.9 878.1 564.5 880.7C566.1 883.3 567.8 885.9 569.5 888.5C571.2 891.0 573.0 893.6 574.8 896.1C576.5 898.6 578.4 901.1 580.2 903.6C582.1 906.1 584.0 908.5 585.9 910.9C587.9 913.4 589.8 915.8 591.8 918.1C593.8 920.5 595.9 922.9 598.0 925.2C600.0 927.5 602.2 929.8 604.3 932.0C606.5 934.3 608.7 936.5 610.9 938.6C613.1 940.8 615.4 942.9 617.7 945.0C620.0 947.0 622.3 949.0 624.7 951.0C627.1 953.0 629.5 954.9 632.0 956.7C634.5 958.5 637.0 960.3 639.5 962.0C642.1 963.7 644.7 965.4 647.3 967.0C649.9 968.5 652.6 970.0 655.3 971.5C658.0 972.9 660.7 974.2 663.5 975.5C666.3 976.8 669.2 978.0 672.0 979.1C674.9 980.2 677.8 981.2 680.8 982.1C683.7 983.0 686.7 983.9 689.7 984.6C692.7 985.4 695.7 986.1 698.8 986.7C701.8 987.3 704.9 987.8 708.0 988.2C711.0 988.7 714.1 989.0 717.2 989.3C720.3 989.6 723.4 989.8 726.5 989.9C729.6 990.0 732.7 990.0 735.8 990.0C738.9 989.9 743.5 989.7 745.0 989.6" fill="none" stroke="#d9d9d9" stroke-width="6" stroke-linecap="round" stroke-linejoin="round"/>
<path d="M576.6 239.5C575.9 242.0 574.7 248.2 572.4 254.3C570.1 260.4 566.5 269.3 562.6 276.2C558.8 283.1 554.2 290.4 549.3 295.8C544.4 301.2 538.1 305.5 533.2 308.8C528.3 312.1 524.9 313.1 520.0 315.4C515.1 317.7 510.1 320.6 503.8 322.4C497.6 324.2 489.3 325.8 482.5 326.2C475.7 326.6 466.2 325.0 463.0 324.8" fill="none" stroke="#000" stroke-width="6" stroke-linecap="round" stroke-linejoin="round"/>
<path d="M577.0 168.0C575.6 168.6 570.8 170.0 568.3 171.7C565.8 173.4 563.9 175.8 562.0 178.2C560.2 180.6 558.6 183.4 557.1 186.1C555.6 188.8 554.2 191.6 552.9 194.4C551.6 197.3 550.4 200.2 549.2 203.1C548.0 206.0 546.9 209.0 545.8 211.9C544.6 214.8 543.5 217.8 542.4 220.7C541.3 223.7 540.2 226.6 539.1 229.5C538.0 232.5 536.9 235.4 535.9 238.3C534.8 241.3 533.7 244.2 532.7 247.2C531.6 250.1 530.6 253.0 529.5 256.0C528.5 258.9 527.5 261.9 526.4 264.8C525.4 267.8 524.4 270.7 523.4 273.7C522.4 276.6 521.4 279.6 520.5 282.5C519.5 285.5 518.5 288.5 517.6 291.4C516.6 294.4 515.7 297.4 514.8 300.3C513.9 303.3 513.0 306.3 512.1 309.3C511.2 312.3 510.3 315.3 509.4 318.3C508.5 321.3 507.7 324.3 506.8 327.3C505.9 330.3 505.1 333.3 504.2 336.3C503.4 339.3 502.6 342.3 501.7 345.3C500.9 348.3 500.1 351.3 499.2 354.4C498.4 357.4 497.6 360.4 496.8 363.4C495.9 366.4 495.1 369.4 494.3 372.5C493.5 375.5 492.6 378.5 491.8 381.5C491.0 384.5 490.2 387.5 489.3 390.5C488.5 393.5 487.6 396.6 486.8 399.6C485.9 402.6 485.1 405.6 484.2 408.6C483.4 411.6 482.5 414.6 481.6 417.6C480.8 420.6 479.9 423.6 479.1 426.6C478.2 429.6 477.3 432.6 476.5 435.6C475.6 438.6 474.7 441.6 473.9 444.6C473.0 447.6 472.2 450.6 471.3 453.6C470.5 456.6 469.6 459.6 468.8 462.6C468.0 465.6 467.1 468.6 466.3 471.6C465.5 474.6 464.7 477.7 463.9 480.7C463.1 483.7 462.3 486.7 461.5 489.7C460.7 492.8 459.9 495.8 459.2 498.8C458.4 501.8 457.7 504.9 456.9 507.9C456.2 510.9 455.5 514.0 454.8 517.0C454.1 520.1 453.0 524.7 452.7 526.2" fill="none" stroke="#000" stroke-width="6" stroke-linecap="round" stroke-linejoin="round"/>
<path d="M458.6 330.3C459.9 331.2 463.8 333.6 466.2 335.5C468.6 337.4 470.8 339.5 472.9 341.7C475.0 343.9 477.0 346.2 478.9 348.6C480.7 351.0 482.5 353.5 484.2 356.0C486.0 358.6 487.6 361.2 489.2 363.8C490.8 366.4 492.3 369.1 493.8 371.7C495.3 374.4 496.7 377.1 498.2 379.8C499.6 382.5 501.0 385.2 502.3 388.0C503.7 390.7 505.0 393.4 506.3 396.2C507.6 399.0 508.9 401.7 510.2 404.5C511.4 407.3 512.7 410.1 513.9 412.8C515.2 415.6 516.4 418.4 517.7 421.2C518.9 424.0 520.1 426.8 521.3 429.6C522.6 432.4 523.8 435.2 525.0 438.0C526.2 440.8 527.4 443.6 528.6 446.4C529.8 449.2 531.0 452.0 532.2 454.8C533.4 457.6 534.6 460.5 535.8 463.3C537.0 466.1 538.1 468.9 539.3 471.7C540.5 474.5 541.7 477.4 542.8 480.2C544.0 483.0 545.2 485.8 546.3 488.7C547.5 491.5 548.6 494.3 549.8 497.1C550.9 500.0 552.0 502.8 553.2 505.7C554.3 508.5 555.4 511.3 556.6 514.2C557.7 517.0 558.8 519.9 559.9 522.7C561.0 525.5 562.2 528.4 563.3 531.2C564.4 534.1 565.5 536.9 566.6 539.8C567.7 542.6 568.7 545.5 569.8 548.4C570.9 551.2 572.0 554.1 573.1 556.9C574.1 559.8 575.2 562.6 576.3 565.5C577.4 568.4 578.4 571.2 579.5 574.1C580.6 576.9 581.6 579.8 582.7 582.7C583.8 585.5 584.9 588.4 586.0 591.2C587.1 594.1 588.2 596.9 589.3 599.7C590.5 602.6 591.6 605.4 592.7 608.2C593.9 611.0 595.1 613.8 596.3 616.6C597.5 619.4 598.7 622.2 599.9 625.0C601.1 627.8 602.4 630.6 603.7 633.3C604.9 636.1 606.2 638.9 607.5 641.6C608.8 644.4 610.1 647.2 611.5 649.9C612.8 652.7 614.1 655.4 615.5 658.2C616.9 660.9 618.2 663.7 619.6 666.4C621.0 669.1 622.4 671.8 623.9 674.5C625.3 677.3 626.8 679.9 628.3 682.6C629.7 685.3 631.3 688.0 632.8 690.6C634.4 693.2 635.9 695.8 637.6 698.4C639.2 701.0 640.8 703.6 642.5 706.1C644.2 708.6 646.0 711.1 647.7 713.6C649.5 716.1 651.3 718.5 653.2 720.9C655.1 723.3 657.0 725.6 659.0 727.9C660.9 730.2 662.9 732.5 665.0 734.7C667.1 737.0 669.2 739.1 671.4 741.3C673.6 743.4 675.9 745.5 678.2 747.5C680.5 749.5 682.9 751.5 685.3 753.4C687.8 755.3 690.3 757.1 692.8 758.8C695.4 760.5 698.0 762.1 700.7 763.6C703.3 765.1 706.1 766.4 708.9 767.6C711.6 768.9 714.5 769.9 717.4 770.8C720.2 771.7 723.2 772.4 726.2 773.0C729.1 773.5 732.2 773.8 735.2 773.9C738.3 774.0 743.0 773.7 744.6 773.6" fill="none" stroke="#d9d9d9" stroke-width="6" stroke-linecap="round" stroke-linejoin="round"/>
<path d="M463.4 326.3C464.6 327.3 468.1 330.3 470.4 332.4C472.6 334.5 474.8 336.7 476.8 338.9C478.9 341.2 481.0 343.5 482.9 345.8C484.9 348.1 486.8 350.5 488.6 353.0C490.4 355.4 492.2 357.9 493.9 360.5C495.6 363.0 497.3 365.6 498.9 368.2C500.5 370.8 502.1 373.5 503.6 376.1C505.1 378.8 506.6 381.5 508.0 384.3C509.5 387.0 510.9 389.8 512.2 392.5C513.6 395.3 514.9 398.1 516.3 400.9C517.6 403.7 518.9 406.6 520.1 409.4C521.4 412.2 522.6 415.0 523.9 417.9C525.1 420.7 526.3 423.6 527.5 426.4C528.7 429.2 529.9 432.1 531.1 434.9C532.2 437.8 533.4 440.6 534.6 443.4C535.7 446.3 536.9 449.1 538.0 452.0C539.2 454.8 540.3 457.6 541.4 460.5C542.6 463.3 543.7 466.2 544.9 469.0C546.0 471.8 547.1 474.7 548.3 477.5C549.4 480.4 550.6 483.2 551.7 486.0C552.9 488.9 554.0 491.7 555.2 494.6C556.4 497.4 557.6 500.2 558.7 503.1C559.9 505.9 561.1 508.7 562.3 511.6C563.5 514.4 564.7 517.3 565.9 520.1C567.1 522.9 568.3 525.8 569.5 528.6C570.7 531.5 571.9 534.3 573.0 537.2C574.2 540.1 575.3 542.9 576.5 545.8C577.6 548.7 578.7 551.5 579.8 554.4C580.9 557.3 581.9 560.2 583.0 563.1C584.0 566.0 585.0 568.9 586.1 571.8C587.1 574.7 588.1 577.6 589.2 580.5C590.2 583.4 591.2 586.3 592.3 589.2C593.4 592.1 594.5 594.9 595.6 597.8C596.8 600.6 597.9 603.5 599.1 606.3C600.3 609.1 601.6 611.9 602.8 614.7C604.1 617.5 605.3 620.3 606.6 623.1C607.9 625.8 609.3 628.6 610.6 631.4C611.9 634.2 613.2 636.9 614.6 639.7C615.9 642.5 617.3 645.2 618.7 648.0C620.1 650.8 621.5 653.5 622.9 656.3C624.3 659.0 625.7 661.7 627.2 664.4C628.6 667.2 630.1 669.9 631.6 672.6C633.1 675.3 634.6 677.9 636.2 680.6C637.8 683.3 639.3 685.9 640.9 688.5C642.6 691.1 644.2 693.7 645.9 696.3C647.6 698.9 649.3 701.5 651.0 704.0C652.8 706.5 654.5 709.0 656.4 711.5C658.2 714.0 660.0 716.4 661.9 718.8C663.8 721.2 665.8 723.6 667.8 726.0C669.7 728.3 671.8 730.6 673.8 732.9C675.9 735.2 678.0 737.4 680.2 739.6C682.4 741.8 684.6 744.0 686.9 746.0C689.2 748.1 691.5 750.1 693.9 752.0C696.3 753.9 698.8 755.8 701.3 757.5C703.9 759.2 706.5 760.8 709.2 762.2C711.9 763.6 714.6 764.9 717.5 766.1C720.3 767.2 723.3 768.1 726.3 769.0C729.2 769.8 732.3 770.4 735.3 771.0C738.4 771.7 743.0 772.3 744.5 772.6" fill="none" stroke="#ff0000" stroke-width="6" stroke-linecap="round" stroke-linejoin="round"/>
<path d="M700.7 763.6C702.0 764.3 706.1 766.4 708.9 767.6C711.6 768.9 714.5 769.9 717.4 770.8C720.2 771.7 723.2 772.4 726.2 773.0C729.1 773.5 732.2 773.8 735.2 773.9C738.3 774.0 743.0 773.7 744.6 773.6" fill="none" stroke="#d9d9d9" stroke-width="6.4" stroke-linecap="round" stroke-linejoin="round"/>
<circle cx="147.6" cy="161.6" r="5.1" fill="#000" stroke="#1a1a1a" stroke-width="0.9"/><circle cx="161.2" cy="161.6" r="5.1" fill="#7f7f7f" stroke="#1a1a1a" stroke-width="0.9"/><circle cx="174.7" cy="161.6" r="5.1" fill="#00863d" stroke="#1a1a1a" stroke-width="0.9"/><circle cx="188.2" cy="161.6" r="5.1" fill="#ff0000" stroke="#1a1a1a" stroke-width="0.9"/><circle cx="202.5" cy="161.6" r="5.1" fill="#f2f2f2" stroke="#1a1a1a" stroke-width="0.9"/><line x1="147.6" y1="161.6" x2="175.4" y2="193" stroke="#000" stroke-width="1.1"/><line x1="161.2" y1="161.6" x2="175.4" y2="193" stroke="#000" stroke-width="1.1"/><line x1="174.7" y1="161.6" x2="175.4" y2="193" stroke="#000" stroke-width="1.1"/><line x1="188.2" y1="161.6" x2="175.4" y2="193" stroke="#000" stroke-width="1.1"/><line x1="202.5" y1="161.6" x2="175.4" y2="193" stroke="#000" stroke-width="1.1"/>
<circle cx="152" cy="697.6" r="5.1" fill="#000" stroke="#1a1a1a" stroke-width="0.9"/><circle cx="165.9" cy="697.6" r="5.1" fill="#7f7f7f" stroke="#1a1a1a" stroke-width="0.9"/><circle cx="179.5" cy="697.6" r="5.1" fill="#00863d" stroke="#1a1a1a" stroke-width="0.9"/><circle cx="192.8" cy="697.6" r="5.1" fill="#ff0000" stroke="#1a1a1a" stroke-width="0.9"/><circle cx="207.5" cy="697.6" r="5.1" fill="#f2f2f2" stroke="#1a1a1a" stroke-width="0.9"/><line x1="152" y1="697.6" x2="179.2" y2="730.5" stroke="#000" stroke-width="1.1"/><line x1="165.9" y1="697.6" x2="179.2" y2="730.5" stroke="#000" stroke-width="1.1"/><line x1="179.5" y1="697.6" x2="179.2" y2="730.5" stroke="#000" stroke-width="1.1"/><line x1="192.8" y1="697.6" x2="179.2" y2="730.5" stroke="#000" stroke-width="1.1"/><line x1="207.5" y1="697.6" x2="179.2" y2="730.5" stroke="#000" stroke-width="1.1"/>
<path d="M175.7 192.6C175.9 194.3 176.0 199.5 176.7 202.6C177.4 205.7 178.5 208.6 179.8 211.4C181.1 214.2 182.8 216.7 184.7 219.2C186.6 221.6 188.7 223.9 190.9 226.1C193.2 228.3 195.6 230.3 198.1 232.3C200.6 234.3 203.2 236.1 205.8 237.9C208.4 239.7 211.1 241.5 213.8 243.1C216.5 244.8 219.3 246.4 222.1 247.9C224.9 249.5 227.7 250.9 230.5 252.4C233.4 253.8 236.3 255.2 239.1 256.6C242.0 257.9 245.0 259.2 247.9 260.5C250.8 261.8 253.7 263.1 256.7 264.3C259.6 265.6 262.5 266.8 265.5 268.0C268.4 269.2 271.4 270.4 274.3 271.6C277.3 272.8 280.2 274.0 283.2 275.1C286.1 276.3 289.1 277.4 292.1 278.5C295.0 279.6 298.0 280.7 301.0 281.8C304.0 282.9 306.9 283.9 309.9 285.0C312.9 286.0 315.9 287.0 318.9 288.0C321.9 289.0 324.9 290.0 327.9 291.0C330.9 291.9 334.0 292.8 337.0 293.7C340.0 294.6 343.1 295.5 346.1 296.4C349.2 297.2 352.2 298.1 355.3 298.9C358.3 299.7 361.4 300.5 364.5 301.2C367.6 302.0 370.7 302.7 373.8 303.4C376.9 304.1 380.0 304.8 383.1 305.5C386.2 306.2 389.3 306.8 392.5 307.5C395.6 308.2 398.7 308.8 401.8 309.5C404.9 310.2 408.1 310.9 411.2 311.6C414.3 312.3 417.4 313.0 420.5 313.7C423.6 314.5 426.7 315.2 429.7 316.0C432.8 316.8 435.9 317.7 438.9 318.5C442.0 319.4 445.0 320.3 448.0 321.3C451.0 322.3 455.5 323.9 457.0 324.4" fill="none" stroke="#000" stroke-width="11.8" stroke-linecap="round" stroke-linejoin="round"/>
<path d="M179.3 729.5C179.2 731.1 178.4 735.8 178.5 738.9C178.6 742.1 179.1 745.5 179.8 748.6C180.6 751.8 181.8 754.9 183.2 757.8C184.6 760.7 186.3 763.4 188.2 765.8C190.2 768.1 192.4 770.2 194.9 771.8C197.3 773.4 200.0 774.6 202.8 775.3C205.6 776.0 208.7 776.2 211.6 776.1C214.6 776.0 217.6 775.4 220.6 774.6C223.5 773.9 226.3 772.7 229.1 771.4C231.8 770.1 234.5 768.5 237.1 766.9C239.8 765.2 242.4 763.3 244.9 761.5C247.5 759.6 250.0 757.6 252.5 755.7C255.0 753.7 257.5 751.8 260.0 749.8C262.5 747.8 265.0 745.8 267.4 743.8C269.8 741.8 272.3 739.8 274.7 737.8C277.1 735.8 279.5 733.7 281.9 731.7C284.3 729.6 286.6 727.5 289.0 725.5C291.3 723.4 293.6 721.3 296.0 719.2C298.3 717.1 300.6 715.0 302.9 712.8C305.1 710.7 307.4 708.6 309.7 706.4C311.9 704.3 314.2 702.1 316.4 699.9C318.6 697.7 320.8 695.5 323.0 693.3C325.2 691.1 327.4 688.9 329.6 686.7C331.7 684.5 333.9 682.2 336.0 680.0C338.2 677.7 340.3 675.5 342.4 673.2C344.5 670.9 346.6 668.6 348.7 666.3C350.8 664.0 352.9 661.7 354.9 659.4C357.0 657.1 359.0 654.8 361.1 652.4C363.1 650.1 365.1 647.8 367.1 645.4C369.1 643.0 371.1 640.7 373.1 638.3C375.1 635.9 377.1 633.5 379.0 631.1C381.0 628.7 383.0 626.3 384.9 623.9C386.8 621.5 388.8 619.1 390.7 616.6C392.6 614.2 394.5 611.7 396.4 609.3C398.3 606.8 400.2 604.4 402.1 601.9C403.9 599.4 405.8 596.9 407.7 594.4C409.5 591.9 411.4 589.4 413.2 586.9C415.0 584.4 416.9 581.9 418.7 579.4C420.5 576.8 422.3 574.3 424.1 571.8C425.9 569.2 427.7 566.7 429.5 564.1C431.3 561.5 433.1 559.0 434.8 556.4C436.6 553.8 438.3 551.2 440.1 548.6C441.8 546.1 443.6 543.5 445.3 540.8C447.1 538.2 449.6 534.3 450.5 533.0" fill="none" stroke="#000" stroke-width="11.8" stroke-linecap="round" stroke-linejoin="round"/>
<path d="M154.7 389.7L154.7 460.6A30 30 0 0 0 184.7 490.6L371.5 490.6A29 29 0 0 0 400.5 461.6L400.5 233.6A30 30 0 0 1 430.5 203.6L577 203.6" fill="none" stroke="#d9d9d9" stroke-width="6" stroke-linecap="round" stroke-linejoin="round"/>
<path d="M681.0 887.2C685.3 886.1 698.2 883.1 706.6 880.4C715.0 877.7 724.3 874.5 731.3 870.9C738.3 867.2 744.1 862.0 748.4 858.5C752.7 855.0 755.6 851.4 757.0 850.0" fill="none" stroke="#7f7f7f" stroke-width="6" stroke-linecap="round" stroke-linejoin="round"/>
<path d="M681.0 946.0C684.6 945.9 696.9 946.2 702.8 945.1C708.6 944.0 712.1 941.9 716.1 939.4C720.1 936.9 725.2 931.6 727.0 930.0" fill="none" stroke="#7f7f7f" stroke-width="6" stroke-linecap="round" stroke-linejoin="round"/>
<path d="M755.5 555.5C760.1 560.2 774.8 574.2 783.4 583.6C792.0 593.0 799.4 601.4 807.4 611.6C815.4 621.8 823.5 633.4 831.6 645.0C839.7 656.6 847.9 668.2 856.0 681.0C864.1 693.8 873.2 708.1 880.4 722.0C887.6 735.9 893.9 748.9 899.2 764.3C904.5 779.7 908.9 797.0 912.4 814.2C915.9 831.4 917.7 850.1 920.3 867.3C922.9 884.5 925.8 902.9 927.8 917.2C929.8 931.5 931.5 947.3 932.2 953.3" fill="none" stroke="#d9d9d9" stroke-width="6" stroke-linecap="round" stroke-linejoin="round"/>
<path d="M779.0 490.4C782.8 490.7 795.2 490.7 801.7 492.4C808.2 494.1 814.1 497.2 818.2 500.4C822.3 503.6 824.7 508.2 826.4 511.8C828.1 515.4 828.6 518.2 828.3 522.0C828.0 525.8 826.8 530.5 824.5 534.7C822.2 538.9 818.2 544.1 814.4 547.4C810.6 550.7 805.9 553.0 801.7 554.6C797.5 556.2 792.7 556.6 789.0 557.0C785.3 557.4 780.9 557.0 779.3 557.0" fill="none" stroke="#000" stroke-width="6" stroke-linecap="round" stroke-linejoin="round"/>
<path d="M779.0 490.4C785.6 491.2 806.8 491.6 818.5 495.1C830.2 498.6 840.4 504.1 849.0 511.5C857.6 518.9 864.5 529.5 870.0 539.6C875.5 549.8 879.2 561.5 881.7 572.4C884.2 583.3 884.8 595.1 884.8 605.2C884.8 615.4 883.8 623.9 881.7 633.3C879.6 642.7 876.0 653.1 872.4 661.4C868.8 669.7 864.7 677.1 860.0 683.0C855.3 688.9 851.6 692.2 844.3 696.6C837.0 701.0 826.8 706.5 816.2 709.1C805.7 711.7 786.9 711.8 781.0 712.3" fill="none" stroke="#000" stroke-width="6" stroke-linecap="round" stroke-linejoin="round"/>
<path d="M779.5 556.8C784.0 559.7 797.1 566.1 806.8 574.0C816.5 581.9 827.7 593.4 837.6 604.4C847.5 615.4 857.4 628.2 866.2 640.3C875.0 652.4 881.6 662.6 890.2 677.0C898.8 691.4 909.1 710.2 917.6 726.8C926.1 743.4 933.5 760.7 941.0 776.8C948.5 792.9 956.1 808.1 962.9 823.6C969.7 839.1 978.6 861.9 981.8 869.5" fill="none" stroke="#000" stroke-width="6" stroke-linecap="round" stroke-linejoin="round"/>
<path d="M782.0 713.5C783.7 716.4 789.8 724.5 792.0 731.0C794.2 737.5 796.1 745.8 795.0 752.5C793.9 759.2 789.9 766.2 785.5 771.5C781.1 776.8 775.5 780.3 768.5 784.2C761.5 788.1 747.7 793.2 743.5 795.0" fill="none" stroke="#000" stroke-width="6" stroke-linecap="round" stroke-linejoin="round"/>
<path d="M782.0 713.5C786.1 716.2 799.5 724.0 806.8 729.9C814.0 735.8 820.5 740.4 825.5 748.7C830.5 757.0 835.2 769.0 836.5 779.9C837.8 790.8 836.2 801.7 833.3 814.2C830.4 826.7 824.8 841.8 819.3 854.8C813.8 867.8 806.8 881.2 800.6 892.2C794.4 903.2 785.1 916.2 782.0 921.0" fill="none" stroke="#000" stroke-width="6" stroke-linecap="round" stroke-linejoin="round"/>
<path d="M783.0 925.5C785.8 928.6 796.3 937.8 799.8 944.1C803.3 950.4 804.2 957.2 804.0 963.2C803.8 969.2 802.7 974.9 798.8 980.3C794.9 985.7 787.0 991.5 780.8 995.5C774.6 999.5 767.7 1001.6 761.7 1004.0C755.7 1006.4 747.5 1008.7 744.6 1009.6" fill="none" stroke="#000" stroke-width="6" stroke-linecap="round" stroke-linejoin="round"/>
</g>
<g id="cap">
<rect x="654.8" y="880.4" width="29.9" height="75.5" rx="7.5" fill="#ff6a00" stroke="#1a0d00" stroke-width="1"/>
<text transform="translate(674.6 917.6) rotate(-90) scale(0.78 1)" text-anchor="middle" font-size="13.6" fill="#4a2000">.047uF</text>
</g>
<path d="M-7.2 -2.8C-7.2 -7 -4 -10 0 -10C4 -10 7.2 -7 7.2 -2.8C7.2 2.2 3 10.1 0 10.1C-3 10.1 -7.2 2.2 -7.2 -2.8Z" transform="translate(755.4 452.7) rotate(17)" fill="#7f7f7f" stroke="#1a1a1a" stroke-width="0.9"/>
<path d="M-7.2 -2.8C-7.2 -7 -4 -10 0 -10C4 -10 7.2 -7 7.2 -2.8C7.2 2.2 3 10.1 0 10.1C-3 10.1 -7.2 2.2 -7.2 -2.8Z" transform="translate(734.4 494.1) rotate(17)" fill="#7f7f7f" stroke="#1a1a1a" stroke-width="0.9"/>
<path d="M-7.2 -2.8C-7.2 -7 -4 -10 0 -10C4 -10 7.2 -7 7.2 -2.8C7.2 2.2 3 10.1 0 10.1C-3 10.1 -7.2 2.2 -7.2 -2.8Z" transform="translate(777 490.9) rotate(17)" fill="#7f7f7f" stroke="#1a1a1a" stroke-width="0.9"/>
<path d="M-7.2 -2.8C-7.2 -7 -4 -10 0 -10C4 -10 7.2 -7 7.2 -2.8C7.2 2.2 3 10.1 0 10.1C-3 10.1 -7.2 2.2 -7.2 -2.8Z" transform="translate(779 712) rotate(17)" fill="#7f7f7f" stroke="#1a1a1a" stroke-width="0.9"/>
<path d="M-7.2 -2.8C-7.2 -7 -4 -10 0 -10C4 -10 7.2 -7 7.2 -2.8C7.2 2.2 3 10.1 0 10.1C-3 10.1 -7.2 2.2 -7.2 -2.8Z" transform="translate(729.8 929.3) rotate(32)" fill="#7f7f7f" stroke="#1a1a1a" stroke-width="0.9"/>
<path d="M-7.2 -2.8C-7.2 -7 -4 -10 0 -10C4 -10 7.2 -7 7.2 -2.8C7.2 2.2 3 10.1 0 10.1C-3 10.1 -7.2 2.2 -7.2 -2.8Z" transform="translate(779.8 920.4) rotate(22)" fill="#7f7f7f" stroke="#1a1a1a" stroke-width="0.9"/>
</svg>
</body></html>
